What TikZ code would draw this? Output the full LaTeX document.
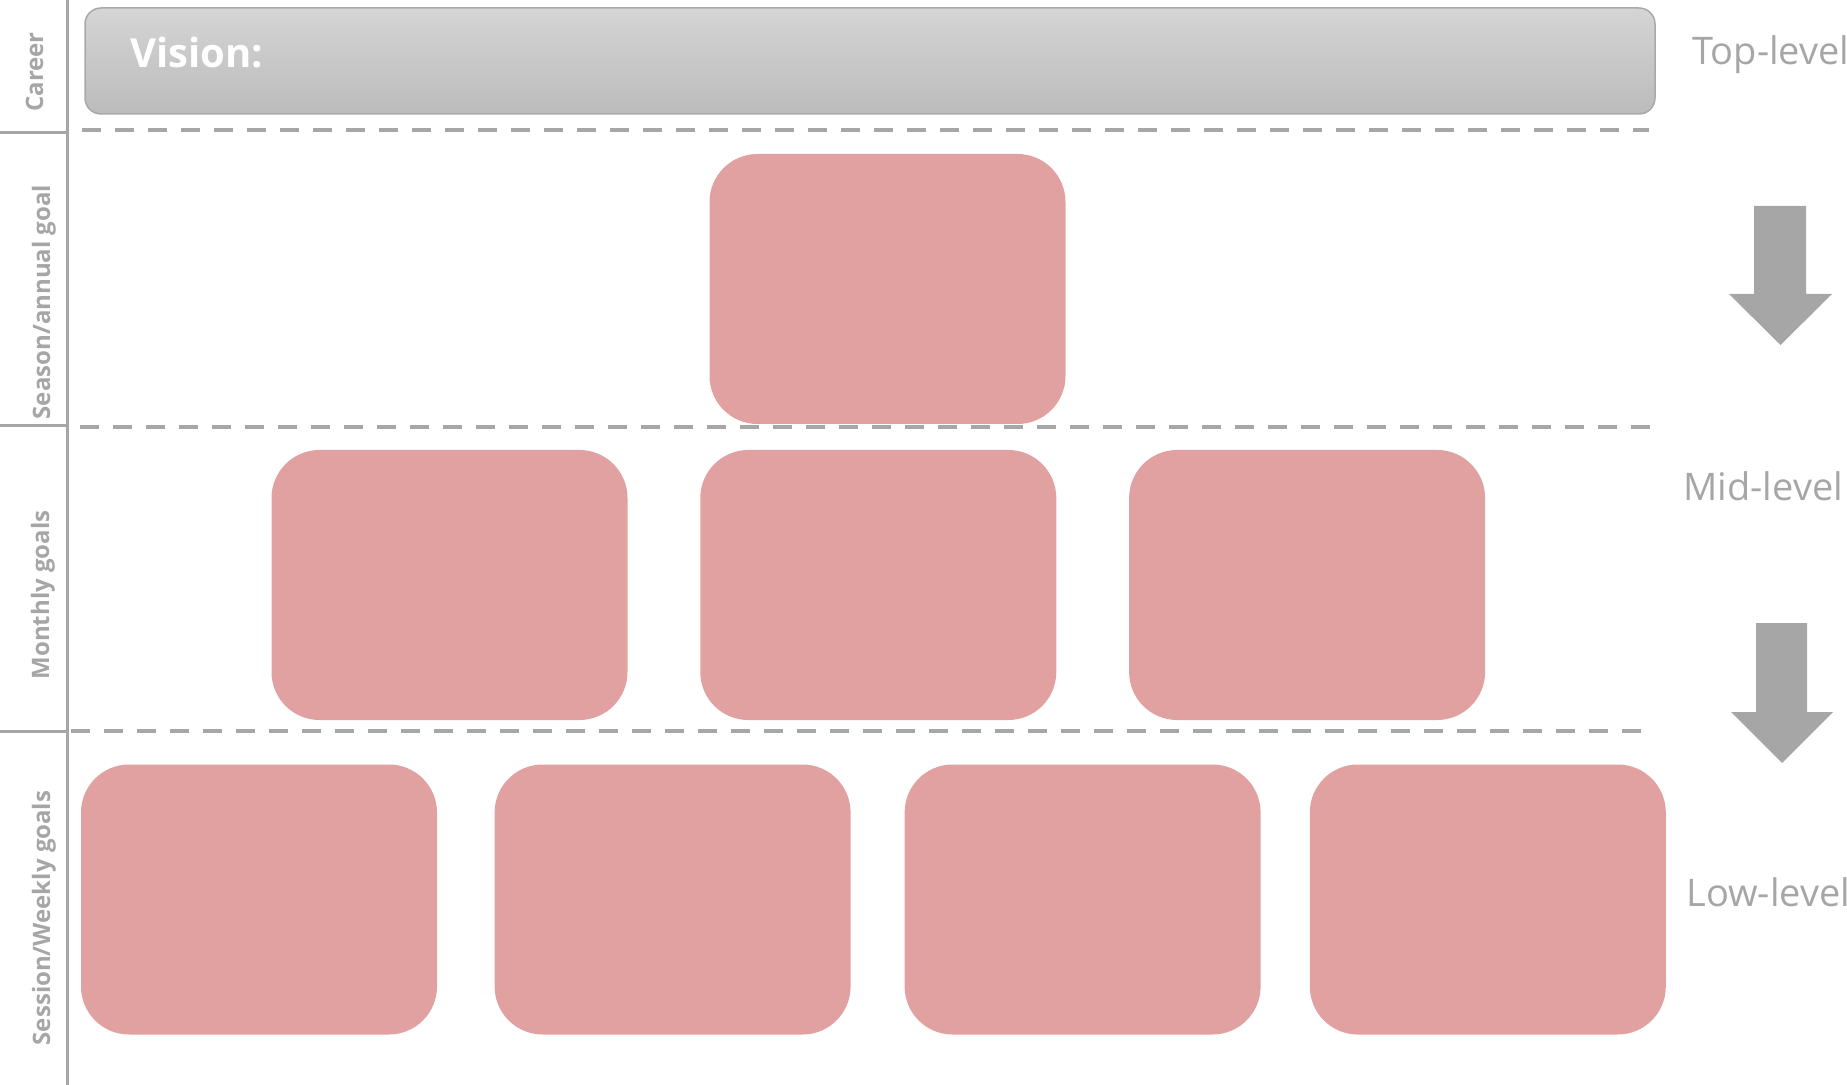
\documentclass[tikz,border=0pt]{standalone}
\usepackage{fontspec}
\setmainfont{Open Sans}
\usetikzlibrary{positioning}
\definecolor{goalpink}{HTML}{E1A1A1}
\definecolor{guidegray}{HTML}{A6A6A6}
\definecolor{visiontop}{HTML}{D5D5D5}
\definecolor{visionbottom}{HTML}{BBBBBB}
\definecolor{visionrule}{HTML}{A9A9A9}

\begin{document}
\begin{tikzpicture}[x=0.5pt,y=-0.5pt,
 goal/.style={fill=goalpink,rounded corners=24pt,minimum width=178pt,minimum height=135pt,inner sep=0pt},
 tier/.style={text=guidegray,font=\fontsize{12}{14}\selectfont\bfseries,rotate=90,anchor=base,inner sep=0pt},
 level/.style={text=guidegray,font=\fontsize{19}{22}\selectfont,anchor=west,inner sep=0pt},
 guide/.style={guidegray,line width=2pt,dash pattern=on 9.5pt off 7pt},
 rule/.style={guidegray,line width=1.5pt}]
\useasboundingbox (0,0) rectangle (1847,1085);
% vision bar
\node[draw=visionrule,line width=0.75pt,top color=visiontop,bottom color=visionbottom,rounded corners=8pt,minimum width=785pt,minimum height=53pt] (vision) at (870,61) {};
\node[anchor=west,text=white,font=\fontsize{20}{24}\selectfont\bfseries,inner sep=0pt] (visiontext) at (130,53) {Vision:};
% left column
\draw[rule] (67,0) -- (67,1085);
\draw[rule] (0,133) -- (67,133);
\draw[rule] (0,426) -- (67,426);
\draw[rule] (0,731) -- (67,731);
\node[tier] (career) at (43,72) {Career};
\node[tier] (season) at (50,302) {Season/annual goal};
\node[tier] (monthly) at (49,595) {Monthly goals};
\node[tier] (weekly) at (50,918) {Session/Weekly goals};
% dashed dividers
\draw[guide] (82,130) -- (1649,130);
\draw[guide] (80,427) -- (1661,427);
\draw[guide] (71,731) -- (1649,731);
% goal boxes
\node[goal] (annual) at (887.5,289) {};
\node[goal] (month1) at (449.5,585) {};
\node[goal,right=36pt of month1] (month2) {};
\node[goal,right=36pt of month2] (month3) {};
\node[goal] (week1) at (259,899.5) {};
\node[goal,right=28.4pt of week1] (week2) {};
\node[goal,right=26.6pt of week2] (week3) {};
\node[goal,right=24.2pt of week3] (week4) {};
% block arrows
\fill[guidegray] (1754,206) -- (1806,206) -- (1806,294) -- (1832,294) -- (1780.5,345) -- (1729,294) -- (1754,294) -- cycle;
\fill[guidegray] (1756,623) -- (1807,623) -- (1807,712) -- (1833,712) -- (1782,763) -- (1731,712) -- (1756,712) -- cycle;
% level labels
\node[level] (toplevel) at (1692,55) {Top-level};
\node[level] (midlevel) at (1683,486) {Mid-level};
\node[level] (lowlevel) at (1686,892) {Low-level};
\end{tikzpicture}
\end{document}
